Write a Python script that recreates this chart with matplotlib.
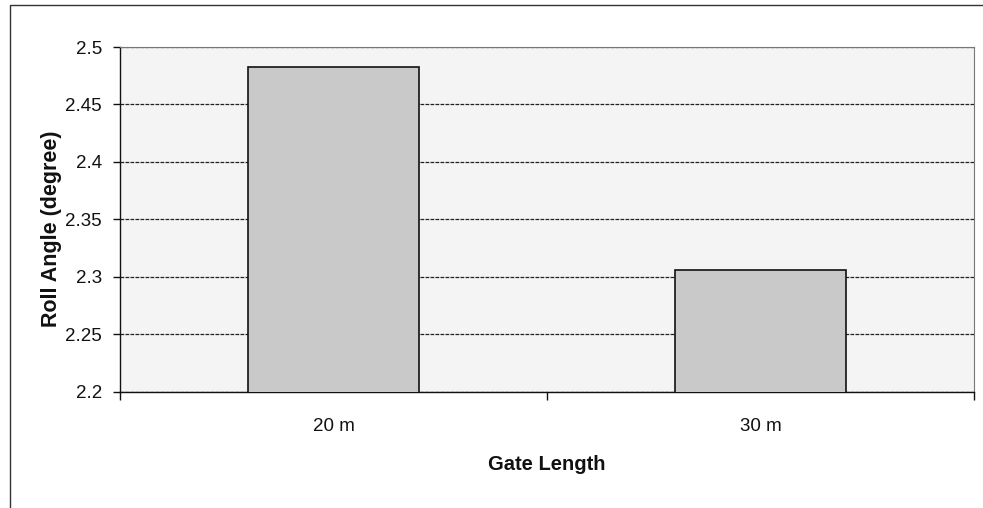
import matplotlib.pyplot as plt
from matplotlib.patches import Rectangle
from matplotlib.ticker import FixedLocator

# gate length vs. roll angle
gate_lengths = ['20 m', '30 m']
roll_angle = [2.483, 2.306]
y_ticks = [2.2, 2.25, 2.3, 2.35, 2.4, 2.45, 2.5]
y_tick_labels = ['2.2', '2.25', '2.3', '2.35', '2.4', '2.45', '2.5']

plt.rcParams['font.family'] = ['Liberation Sans', 'DejaVu Sans']

fig = plt.figure(figsize=(9.83, 5.08), dpi=100)
fig.patch.set_facecolor('white')

# outer chart border (runs off the right and bottom edges)
fig.patches.append(Rectangle((10 / 983, -0.05), 1.2, 1 - 5 / 508 + 0.05,
                             transform=fig.transFigure, fill=False,
                             edgecolor='#333333', linewidth=1.0))

ax = fig.add_axes([120 / 983, 1 - 391.7 / 508, (974 - 120) / 983, (391.7 - 47) / 508])
ax.set_facecolor('#f4f4f4')

x = list(range(len(gate_lengths)))
ax.bar(x, roll_angle, width=0.4, color='#c9c9c9', edgecolor='#111111',
       linewidth=1.2, zorder=3)

ax.set_xlim(-0.5, 1.5)
ax.set_ylim(2.2, 2.5)
ax.set_yticks(y_ticks)
ax.set_yticklabels(y_tick_labels)
ax.set_xticks(x)
ax.set_xticklabels(gate_lengths)
ax.xaxis.set_minor_locator(FixedLocator([-0.5, 0.5, 1.5]))

ax.grid(axis='y', color='#222222', linewidth=0.9, linestyle=(0, (3, 1)), zorder=1)
ax.set_axisbelow(True)

for side in ['top', 'right']:
    ax.spines[side].set_color('#777777')
    ax.spines[side].set_linestyle((0, (1, 1)))
    ax.spines[side].set_linewidth(0.8)
for side in ['left', 'bottom']:
    ax.spines[side].set_color('#111111')
    ax.spines[side].set_linewidth(1.0)

ax.tick_params(axis='y', direction='out', length=5, width=1, pad=8,
               labelsize=13.5, colors='#111111')
ax.tick_params(axis='x', which='major', length=0, pad=19, labelsize=13.5,
               colors='#111111')
ax.tick_params(axis='x', which='minor', direction='out', length=6, width=1,
               color='#111111')

ax.set_ylabel('Roll Angle (degree)', fontsize=15.5, fontweight='bold',
              color='#111111')
ax.yaxis.set_label_coords(-0.068, 0.472)
ax.set_xlabel('Gate Length', fontsize=14.5, fontweight='bold',
              labelpad=14, color='#111111')

fig.savefig('out.png', dpi=100)
